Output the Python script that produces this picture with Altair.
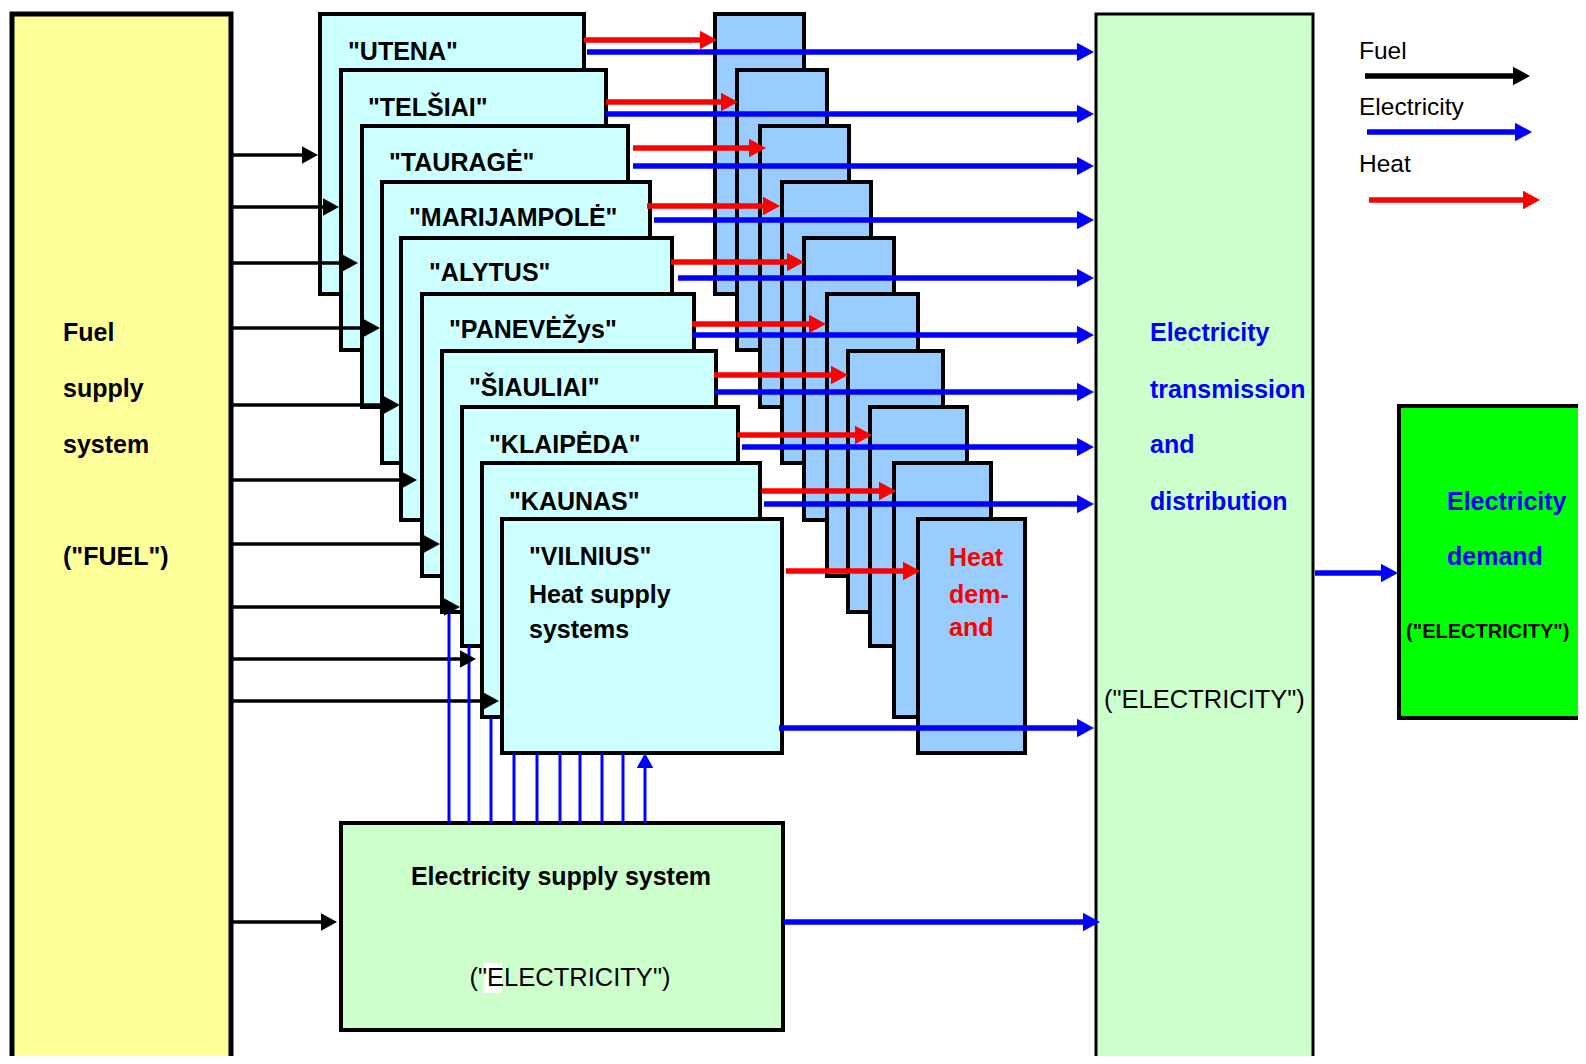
import altair as alt
import pandas as pd

# ---- view window (reference pixel coordinates) ----
X0, X1 = 8, 1578
Y0, Y1 = 8, 1056
W, H = X1 - X0, Y1 - Y0

# ---- heat supply systems (cyan boxes) ----
cities = ['"UTENA"', '"TELŠIAI"', '"TAURAGĖ"', '"MARIJAMPOLĖ"', '"ALYTUS"',
          '"PANEVĖŽys"', '"ŠIAULIAI"', '"KLAIPĖDA"', '"KAUNAS"', '"VILNIUS"']
sup_left = [320, 341, 362, 382, 401, 422, 442, 462, 482, 502]
sup_top = [14, 70, 126, 182, 238, 294, 351, 407, 463, 519]
sup_right = [584, 606, 628, 650, 672, 694, 716, 738, 760, 782]
sup_bottom = [294, 350, 407, 463, 520, 576, 612, 646, 717, 753]
city_label_x = [348, 368, 389, 409, 429, 449, 469, 489, 509, 529]
city_label_y = [52, 108, 163, 218, 273, 330, 388, 445, 502, 557]

# ---- heat demand (light blue boxes) ----
dem_left = [715, 737, 760, 782, 804, 827, 848, 870, 894, 918]
dem_right = [804, 827, 849, 871, 894, 918, 943, 967, 991, 1025]

# ---- heat arrows (red) ----
heat_y = [40, 102, 148, 206, 262, 324, 375, 435, 491, 571]
heat_x_start = [584, 606, 633, 647, 671, 692, 714, 737, 762, 786]
heat_x_tip = [717, 738, 766, 780, 804, 826, 848, 872, 896, 920]

# ---- electricity arrows from heat supply (blue) ----
elec_y = [52, 114, 166, 220, 278, 335, 392, 447, 504, 728]
elec_x_start = [587, 606, 633, 654, 678, 692, 715, 742, 764, 779]
elec_x_tip = 1094

# ---- fuel arrows (black) ----
fuel_y = [155, 207, 263, 328, 405, 480, 544, 607, 659, 701]
fuel_x_tip = [318, 339, 358, 380, 400, 417, 440, 460, 476, 499]
fuel_x_start = 233

# ---- electricity supply feed lines (blue verticals) ----
feed_x = [449, 469, 491, 514, 537, 560, 580, 602, 623, 645]
feed_top = [612, 646, 718, 753, 753, 753, 753, 753, 753, 753]
feed_bottom = 823

# ---- big boxes: (left, top, right, bottom, fill, border) ----
fuel_box = (12, 14, 231, 1090, "#FFFF99", 5)
trans_box = (1096, 14, 1313, 1090, "#CCFFCC", 3)
demand_box = (1399, 406, 1600, 718, "#00FF00", 4)
supply_box = (341, 823, 783, 1030, "#CCFFCC", 4)
patch_box = (484, 963, 502, 993, "#FFFFFF", 0)

# ---- rectangles table ----
rects = []
def add_rect(b):
    rects.append(dict(x1=b[0], y1=b[1], x2=b[2], y2=b[3], fill=b[4], sw=b[5]))

add_rect(fuel_box)
for i in range(10):
    add_rect((sup_left[i], sup_top[i], sup_right[i], sup_bottom[i], "#CCFFFF", 4))
for i in range(10):
    add_rect((dem_left[i], sup_top[i], dem_right[i], sup_bottom[i], "#99CCFF", 4))
add_rect(trans_box)
add_rect(demand_box)
add_rect(supply_box)
add_rect(patch_box)
rect_df = pd.DataFrame(rects)

# ---- arrows ----
RIGHT = "M0,0L-1,-0.55L-1,0.55Z"
UP = "M0,0L-0.55,1L0.55,1Z"
lines, heads = [], []
def arrow(xs, ys, xt, yt, color, width, head, direction="right"):
    if direction == "right":
        lines.append(dict(x1=xs, y1=ys, x2=xt - head * 0.6, y2=yt, c=color, w=width))
        heads.append(dict(x=xt, y=yt, c=color, shape=RIGHT, size=(2 * head) ** 2))
    else:
        lines.append(dict(x1=xs, y1=ys, x2=xt, y2=yt + head * 0.6, c=color, w=width))
        heads.append(dict(x=xt, y=yt, c=color, shape=UP, size=(2 * head) ** 2))

def line(xs, ys, xt, yt, color, width):
    lines.append(dict(x1=xs, y1=ys, x2=xt, y2=yt, c=color, w=width))

RED, BLUE, BLACK = "#FF0000", "#0000FF", "#000000"
for i in range(10):
    arrow(fuel_x_start, fuel_y[i], fuel_x_tip[i], fuel_y[i], BLACK, 3.5, 16)
arrow(fuel_x_start, 922, 337, 922, BLACK, 3.5, 16)
for i in range(10):
    arrow(heat_x_start[i], heat_y[i], heat_x_tip[i], heat_y[i], RED, 5.5, 17)
for i in range(10):
    arrow(elec_x_start[i], elec_y[i], elec_x_tip, elec_y[i], BLUE, 5.5, 17)
arrow(783, 922, 1100, 922, BLUE, 5.5, 17)
arrow(1315, 573, 1398, 573, BLUE, 5.5, 17)
for i in range(9):
    line(feed_x[i], feed_bottom, feed_x[i], feed_top[i], BLUE, 3)
arrow(feed_x[9], feed_bottom, feed_x[9], feed_top[9], BLUE, 3, 15, "up")
# legend arrows
arrow(1365, 76, 1530, 76, BLACK, 5.5, 17)
arrow(1367, 132, 1532, 132, BLUE, 5.5, 17)
arrow(1369, 200, 1540, 200, RED, 5.5, 17)
line_df = pd.DataFrame(lines)
head_df = pd.DataFrame(heads)

# ---- texts ----
bold_left = []
def bt(x, y, t, c=BLACK, s=24):
    bold_left.append(dict(x=x, y=y, t=t, c=c, s=s))

for t, y in zip(["Fuel", "supply", "system", '("FUEL")'], [333, 389, 445, 557]):
    bt(63, y, t, s=25)
for i in range(10):
    bt(city_label_x[i], city_label_y[i], cities[i], s=25)
bt(529, 595, "Heat supply", s=25)
bt(529, 630, "systems", s=25)
for t, y in zip(["Heat", "dem-", "and"], [558, 595, 628]):
    bt(949, y, t, RED, 25)
for t, y in zip(["Electricity", "transmission", "and", "distribution"], [333, 390, 445, 502]):
    bt(1150, y, t, BLUE, 25)
bt(1447, 502, "Electricity", BLUE, 25)
bt(1447, 557, "demand", BLUE, 25)
bt(1406, 632, '("ELECTRICITY")', BLACK, 20)
bold_df = pd.DataFrame(bold_left)

reg_left_df = pd.DataFrame([
    dict(x=1359, y=52, t="Fuel", c=BLACK, s=24.5),
    dict(x=1359, y=108, t="Electricity", c=BLACK, s=24.5),
    dict(x=1359, y=165, t="Heat", c=BLACK, s=24.5),
    dict(x=1104, y=700, t='("ELECTRICITY")', c=BLACK, s=25.5),
])
center_bold_df = pd.DataFrame([dict(x=561, y=877, t="Electricity supply system", c=BLACK, s=25)])
center_reg_df = pd.DataFrame([dict(x=570, y=978, t='("ELECTRICITY")', c=BLACK, s=25.5)])

# ---- encodings ----
xs = alt.Scale(domain=[X0, X1], nice=False, zero=False)
ys = alt.Scale(domain=[Y0, Y1], nice=False, zero=False, reverse=True)

rect_layer = alt.Chart(rect_df).mark_rect(stroke="black", clip=True).encode(
    x=alt.X("x1:Q", scale=xs, axis=None), x2="x2:Q",
    y=alt.Y("y1:Q", scale=ys, axis=None), y2="y2:Q",
    fill=alt.Fill("fill:N", scale=None),
    strokeWidth=alt.StrokeWidth("sw:Q", scale=None),
)

line_layer = alt.Chart(line_df).mark_rule(clip=True).encode(
    x=alt.X("x1:Q", scale=xs, axis=None), x2="x2:Q",
    y=alt.Y("y1:Q", scale=ys, axis=None), y2="y2:Q",
    color=alt.Color("c:N", scale=None),
    strokeWidth=alt.StrokeWidth("w:Q", scale=None),
)

head_layer = alt.Chart(head_df).mark_point(filled=True, opacity=1, strokeWidth=0, clip=True).encode(
    x=alt.X("x:Q", scale=xs, axis=None),
    y=alt.Y("y:Q", scale=ys, axis=None),
    color=alt.Color("c:N", scale=None),
    shape=alt.Shape("shape:N", scale=None),
    size=alt.Size("size:Q", scale=None),
)

def text_layer(df, align, weight):
    return alt.Chart(df).mark_text(
        align=align, baseline="middle", font="Liberation Sans", fontWeight=weight, clip=True
    ).encode(
        x=alt.X("x:Q", scale=xs, axis=None),
        y=alt.Y("y:Q", scale=ys, axis=None),
        text="t:N",
        color=alt.Color("c:N", scale=None),
        size=alt.Size("s:Q", scale=None),
    )

chart = alt.layer(
    rect_layer, line_layer, head_layer,
    text_layer(bold_df, "left", "bold"),
    text_layer(reg_left_df, "left", "normal"),
    text_layer(center_bold_df, "center", "bold"),
    text_layer(center_reg_df, "center", "normal"),
).properties(
    width=W, height=H, autosize="none", padding=0, background="white"
).configure_view(stroke=None)

chart.save("out.html", embed_options={"renderer": "svg", "actions": False})
